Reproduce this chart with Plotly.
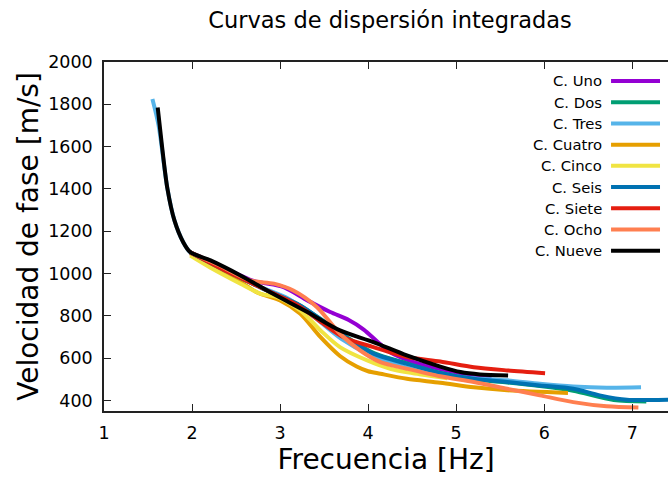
import plotly.graph_objects as go

names = ["C. Uno", "C. Dos", "C. Tres", "C. Cuatro", "C. Cinco",
         "C. Seis", "C. Siete", "C. Ocho", "C. Nueve"]
colors = ["#9400D3", "#009E73", "#56B4E9", "#E69F00", "#F0E442",
          "#0072B2", "#E51E10", "#FF7F50", "#000000"]

uno_f = [1.98, 2.3, 2.7, 3.04, 3.31, 3.57, 3.78, 3.95, 4.1, 4.25, 4.52, 4.82, 5.1, 5.4]
uno_v = [1100, 1040, 965, 936, 873, 818, 780, 735, 680, 628, 581, 548, 525, 505]

dos_f = [1.98, 2.4, 2.8, 3.2, 3.53, 3.8, 4.06, 4.44, 4.82, 5.2, 5.58, 5.95, 6.33, 6.79, 7.16]
dos_v = [1100, 1010, 930, 855, 765, 688, 625, 575, 530, 500, 485, 468, 446, 402, 395]

tres_f = [1.55, 1.62, 1.72, 1.80, 1.90, 1.98, 2.3, 2.7, 3.1, 3.4, 3.7, 4.0, 4.4, 4.8, 5.2, 5.58, 5.95, 6.33, 6.71, 7.1]
tres_v = [1825, 1700, 1402, 1251, 1148, 1100, 1040, 950, 880, 790, 690, 620, 560, 520, 505, 495, 479, 466, 460, 462]

cuatro_f = [1.98, 2.3, 2.55, 2.74, 3.0, 3.23, 3.46, 3.68, 3.87, 4.0, 4.14, 4.44, 4.82, 5.2, 5.58, 6.27]
cuatro_v = [1095, 1020, 960, 910, 873, 810, 699, 610, 560, 538, 526, 502, 484, 462, 448, 435]

cinco_f = [1.98, 2.2, 2.55, 2.78, 2.96, 3.23, 3.46, 3.68, 3.99, 4.25, 4.5, 4.9]
cinco_v = [1085, 1030, 952, 904, 889, 826, 731, 652, 589, 550, 530, 505]

seis_f = [1.98, 2.4, 2.8, 3.23, 3.53, 3.80, 4.06, 4.44, 4.82, 5.20, 5.58, 5.95, 6.33, 6.63, 6.94, 7.41, 7.6]
seis_v = [1100, 1010, 930, 849, 762, 684, 621, 573, 530, 502, 487, 471, 455, 424, 403, 403, 403]

siete_f = [1.98, 2.4, 2.8, 3.2, 3.5, 3.72, 4.06, 4.44, 4.82, 5.20, 5.58, 6.01]
siete_v = [1100, 1010, 930, 850, 760, 699, 652, 605, 584, 557, 542, 529]

ocho_f = [1.98, 2.3, 2.66, 2.93, 3.15, 3.42, 3.68, 3.91, 4.14, 4.44, 4.82, 5.20, 5.58, 5.95, 6.33, 6.71, 7.07]
ocho_v = [1100, 1040, 967, 952, 920, 841, 715, 636, 581, 550, 514, 487, 455, 424, 392, 372, 366]

nueve_f = [1.61, 1.66, 1.72, 1.80, 1.90, 1.98, 2.21, 2.55, 2.92, 3.31, 3.68, 4.06, 4.44, 4.82, 5.05, 5.27, 5.59]
nueve_v = [1785, 1598, 1402, 1251, 1148, 1101, 1062, 991, 904, 818, 731, 676, 613, 560, 534, 523, 518]

series_f = [uno_f, dos_f, tres_f, cuatro_f, cinco_f, seis_f, siete_f, ocho_f, nueve_f]
series_v = [uno_v, dos_v, tres_v, cuatro_v, cinco_v, seis_v, siete_v, ocho_v, nueve_v]

x_ticks = [1, 2, 3, 4, 5, 6, 7]
y_ticks = [400, 600, 800, 1000, 1200, 1400, 1600, 1800, 2000]

FONT = "DejaVu Sans, sans-serif"
W, H = 668, 482
L, R, T, B = 103.6, 668, 62, 411.5

fig = go.Figure()
for f, v, n, c in zip(series_f, series_v, names, colors):
    fig.add_trace(go.Scatter(x=f, y=v, name=n, mode="lines",
                             line=dict(color=c, width=4, shape="spline", smoothing=0.8),
                             showlegend=False))

def px2paper_x(px):
    return (px - L) / (R - L)

def px2paper_y(py):
    return (B - py) / (B - T)

for i, (n, c) in enumerate(zip(names, colors)):
    py = 81 + i * 21.25
    fig.add_annotation(x=px2paper_x(604), y=px2paper_y(py), xref="paper", yref="paper",
                       text=n, showarrow=False, xanchor="right", yanchor="middle",
                       font=dict(family=FONT, size=14.8, color="#000"))
    fig.add_shape(type="line", xref="paper", yref="paper",
                  x0=px2paper_x(611), x1=px2paper_x(660),
                  y0=px2paper_y(py), y1=px2paper_y(py),
                  line=dict(color=c, width=4))

fig.update_layout(
    width=W, height=H,
    margin=dict(l=L, r=W - R, t=T, b=H - B),
    paper_bgcolor="white", plot_bgcolor="white",
    font=dict(family=FONT, color="#000"),
    title=dict(text="Curvas de dispersión integradas", x=390 / W, xanchor="center",
               y=1 - 20 / H, yanchor="middle", xref="container",
               font=dict(family=FONT, size=22.5, color="#000")),
)

fig.update_xaxes(range=[1, 1 + (R - L) / 88.1], tickvals=x_ticks,
                 ticks="inside", ticklen=7, tickwidth=1.2, tickcolor="#222",
                 showline=True, linecolor="#222", linewidth=1.5, mirror="ticks",
                 showgrid=False, zeroline=False, ticklabelstandoff=5,
                 tickfont=dict(family=FONT, size=17.5, color="#000"),
                 title=dict(text="Frecuencia [Hz]", font=dict(family=FONT, size=28, color="#000"),
                            standoff=8))
fig.update_yaxes(range=[350, 2000], tickvals=y_ticks,
                 ticks="inside", ticklen=7, tickwidth=1.2, tickcolor="#222",
                 showline=True, linecolor="#222", linewidth=1.5,
                 showgrid=False, zeroline=False, ticklabelstandoff=6,
                 tickfont=dict(family=FONT, size=17.5, color="#000"),
                 title=dict(text="Velocidad de fase [m/s]", font=dict(family=FONT, size=28, color="#000"),
                            standoff=1))

fig.write_html("out.html")
